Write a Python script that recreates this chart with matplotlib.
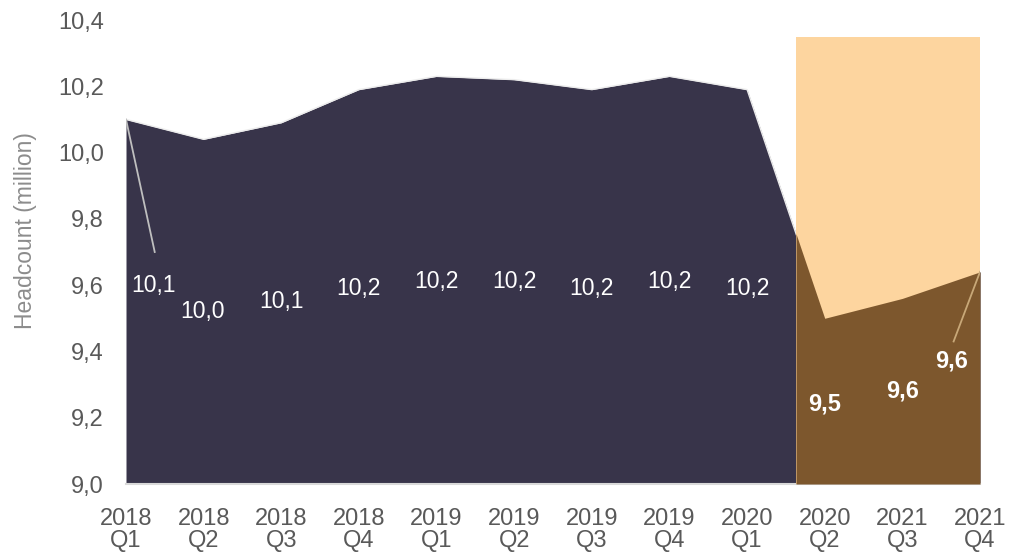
import numpy as np
import matplotlib.pyplot as plt

plt.rcParams['font.family'] = ['Liberation Sans', 'DejaVu Sans']

quarters = ['2018\nQ1', '2018\nQ2', '2018\nQ3', '2018\nQ4', '2019\nQ1', '2019\nQ2',
            '2019\nQ3', '2019\nQ4', '2020\nQ1', '2020\nQ2', '2021\nQ3', '2021\nQ4']
headcount = [10.10, 10.04, 10.09, 10.19, 10.23, 10.22, 10.19, 10.23, 10.19, 9.50, 9.56, 9.64]
labels = ['10,1', '10,0', '10,1', '10,2', '10,2', '10,2', '10,2', '10,2', '10,2', '9,5', '9,6', '9,6']
forecast_start = 8.63   # where the forecast band begins (between 2020 Q1 and Q2)
band_top = 10.35

# label placement (layout only)
label_x = [0.35, 0.99, 2, 3, 4, 5, 6, 7, 8, 9, 10, 10.64]
label_y = [9.60, 9.52, 9.55, 9.59, 9.61, 9.61, 9.59, 9.61, 9.59, 9.24, 9.28, 9.37]

navy = '#38344a'
peach = '#fdd59f'
brown = '#7d572d'

x = np.arange(len(headcount))
y = np.array(headcount)

fig = plt.figure(figsize=(10.21, 5.53), dpi=100)
ax = fig.add_axes([126/1021, 1-484/553, (980-126)/1021, (484-20)/553])

ax.fill_between(x, 9.0, y, color=navy, lw=0, zorder=1)
ax.plot(x, y, color='#ececec', lw=1.0, zorder=2)

# forecast band
ax.fill_between([forecast_start, 11], 9.0, band_top, color=peach, lw=0, zorder=3)
xf = np.concatenate([[forecast_start], x[9:]])
yf = np.concatenate([[np.interp(forecast_start, x, y)], y[9:]])
ax.fill_between(xf, 9.0, yf, color=brown, lw=0, zorder=4)

for i, t in enumerate(labels):
    bold = i >= 9
    ax.text(label_x[i], label_y[i], t, color='white', fontsize=17 if bold else 16.5,
            fontweight='bold' if bold else 'normal', ha='center', va='center', zorder=6)

# leader lines
ax.plot([0, 0.37], [y[0], 9.70], color='#bfbfbf', lw=1.3, zorder=5)
ax.plot([11, 10.66], [y[11], 9.43], color='#c8a878', lw=1.3, zorder=5)

ax.set_xlim(0, 11)
ax.set_ylim(9.0, 10.4)
ax.set_xticks(x)
ax.set_xticklabels(quarters, linespacing=1.05)
yt = np.arange(9.0, 10.41, 0.2)
ax.set_yticks(yt)
ax.set_yticklabels([f'{v:.1f}'.replace('.', ',') for v in yt])
ax.tick_params(length=0, labelsize=17, colors='#595959')
ax.tick_params(axis='x', pad=17)
ax.tick_params(axis='y', pad=16)
for s in ['top', 'right', 'left']:
    ax.spines[s].set_visible(False)
ax.spines['bottom'].set_color('#d9d9d9')
ax.spines['bottom'].set_linewidth(1.5)
ax.set_ylabel('Headcount (million)', fontsize=16.5, color='#8c8c8c')
ax.yaxis.set_label_coords(-0.104, 0.547)

fig.savefig('out.png', dpi=100)
